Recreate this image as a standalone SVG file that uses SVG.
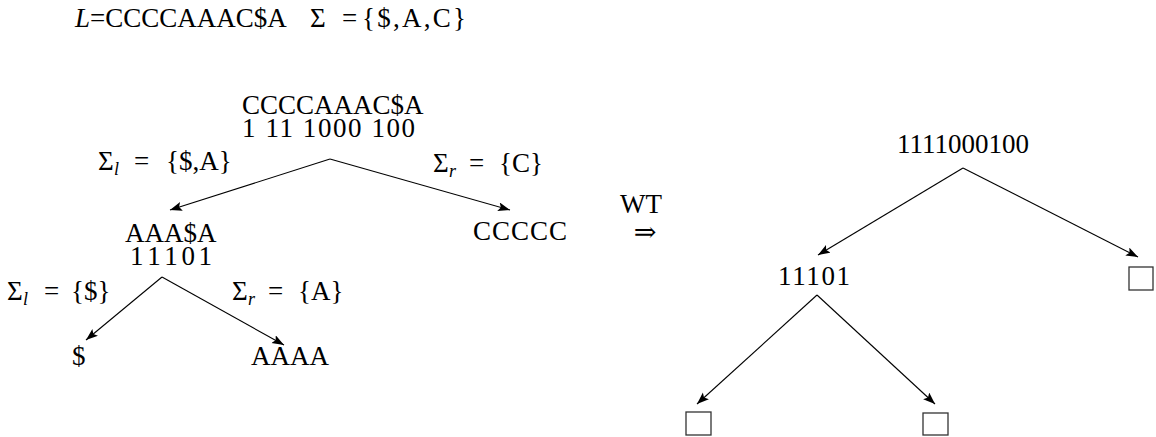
<svg xmlns="http://www.w3.org/2000/svg" width="1156" height="437" viewBox="0 0 1156 437">
  <style>
    text { font-family: "Liberation Serif", "DejaVu Serif", serif; font-size: 27px; fill: #000; }
    .it { font-style: italic; }
    .sub { font-size: 18px; font-style: italic; }
    .edge { stroke: #000; stroke-width: 1.1; fill: none; marker-end: url(#tip); }
    .leaf { fill: #fff; stroke: #333; stroke-width: 1.3; }
  </style>
  <defs>
    <marker id="tip" markerUnits="userSpaceOnUse" markerWidth="13" markerHeight="10" refX="12" refY="4.5" orient="auto">
      <path d="M0,0 L12,4.5 L0,9 L2.5,4.5 z" fill="#000"/>
    </marker>
  </defs>
  <rect width="1156" height="437" fill="#fff"/>

  <!-- header: input string and alphabet -->
  <g id="header">
    <text x="75" y="27"><tspan class="it">L</tspan>=CCCCAAAC$A</text>
    <text y="27"><tspan x="310">Σ</tspan><tspan x="342">=</tspan><tspan x="362" textLength="104">{$,A,C}</tspan></text>
  </g>

  <!-- connectors -->
  <g id="connectors">
    <line class="edge" x1="330" y1="159" x2="170" y2="210"/>
    <line class="edge" x1="330" y1="159" x2="510" y2="210"/>
    <line class="edge" x1="162" y1="277" x2="86" y2="340"/>
    <line class="edge" x1="162" y1="277" x2="284" y2="345"/>
    <line class="edge" x1="963" y1="168" x2="818" y2="255"/>
    <line class="edge" x1="963" y1="168" x2="1138" y2="257"/>
    <line class="edge" x1="817" y1="295" x2="697" y2="404"/>
    <line class="edge" x1="817" y1="295" x2="935" y2="404"/>
  </g>

  <!-- left tree: splitting the sequence -->
  <g id="root-seq">
    <text><tspan x="242" y="114">CCCCAAAC$A</tspan><tspan x="242" y="137" textLength="173">1 11 1000 100</tspan></text>
  </g>
  <g id="label-root-left">
    <text y="170"><tspan x="98">Σ</tspan><tspan class="sub" x="114" dy="5">l</tspan><tspan x="134" dy="-5">=</tspan><tspan x="166">{$,A}</tspan></text>
  </g>
  <g id="label-root-right">
    <text y="172"><tspan x="433">Σ</tspan><tspan class="sub" x="449" dy="5">r</tspan><tspan x="469" dy="-5">=</tspan><tspan x="499">{C}</tspan></text>
  </g>
  <g id="left-seq">
    <text><tspan x="125" y="242">AAA$A</tspan><tspan x="130" y="265" textLength="82">1 1 1 0 1</tspan></text>
  </g>
  <g id="right-seq">
    <text x="473" y="240" textLength="94">CCCCC</text>
  </g>
  <g id="label-left-left">
    <text y="300"><tspan x="7">Σ</tspan><tspan class="sub" x="23" dy="5">l</tspan><tspan x="44" dy="-5">=</tspan><tspan x="71">{$}</tspan></text>
  </g>
  <g id="label-left-right">
    <text y="300"><tspan x="232">Σ</tspan><tspan class="sub" x="248" dy="5">r</tspan><tspan x="268" dy="-5">=</tspan><tspan x="298">{A}</tspan></text>
  </g>
  <g id="leaf-dollar">
    <text x="72" y="365">$</text>
  </g>
  <g id="leaf-a">
    <text x="251" y="365">AAAA</text>
  </g>

  <!-- transformation arrow -->
  <g id="wt">
    <text x="641" y="213" text-anchor="middle">WT</text>
    <text x="645" y="241" text-anchor="middle">⇒</text>
  </g>

  <!-- right tree: wavelet tree bitvectors -->
  <g id="wt-root">
    <text x="897" y="153">1111000100</text>
  </g>
  <g id="wt-left">
    <text x="778" y="285" textLength="72">11101</text>
  </g>
  <g id="wt-leaf-c">
    <rect class="leaf" x="1129" y="267" width="24" height="23"/>
  </g>
  <g id="wt-leaf-dollar">
    <rect class="leaf" x="686" y="412" width="25" height="23"/>
  </g>
  <g id="wt-leaf-a">
    <rect class="leaf" x="923" y="413" width="25" height="22"/>
  </g>
</svg>
